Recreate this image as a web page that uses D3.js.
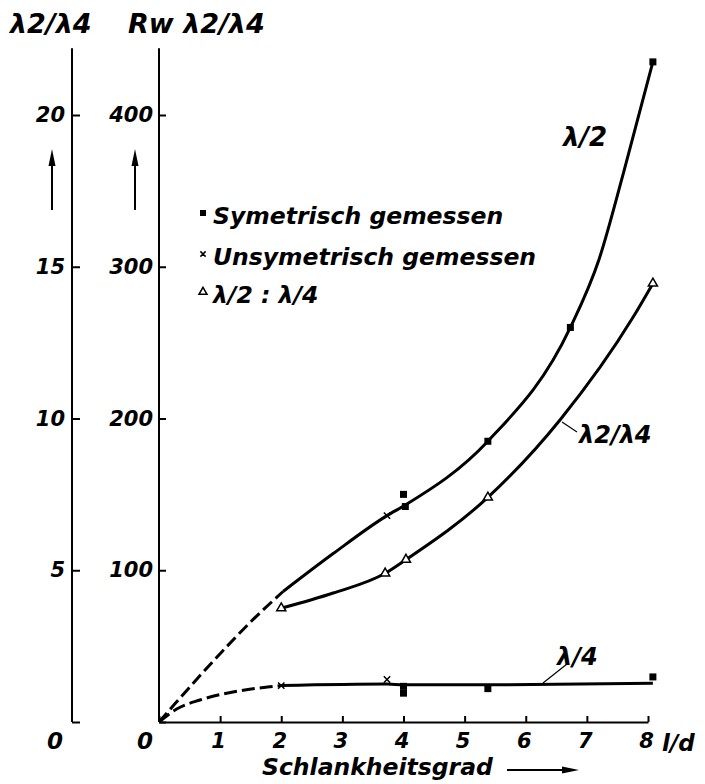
<!DOCTYPE html>
<html>
  <head>
    <meta charset="utf-8">
    <script src="https://d3js.org/d3.v7.min.js"></script>
    <style>
      body { margin: 0; background: white; }
      text { font-family: "DejaVu Sans", sans-serif; font-weight: bold; font-style: italic; fill: black; }
      .axis path, .axis line { stroke: black; stroke-width: 2px; }
      .axis text { font-size: 21px; }
      .curve { fill: none; stroke: black; stroke-width: 3px; }
    </style>
  </head>
  <body>
    <div id="chart"></div>
<script>

// ---------- DATA -----------
var xTicks = [0, 1, 2, 3, 4, 5, 6, 7, 8];
var leftTicks = [0, 5, 10, 15, 20];
var rightTicks = [0, 100, 200, 300, 400];

// lambda/2 curve (Rw scale), dashed start then solid
var halfDashed = [[0, 0], [0.26, 12], [1, 45], [1.5, 66], [2.03, 86]];
var halfSolid = [[2.03, 86], [2.85, 111], [3.73, 136], [4.03, 143], [5.38, 185], [6.73, 260], [7.2, 305], [7.6, 362], [8.08, 435]];

// lambda2/lambda4 ratio curve
var ratioSolid = [[2, 75], [2.85, 85], [3.7, 98], [4.04, 107], [5.38, 148], [6.56, 199], [7.76, 267], [8.08, 289]];

// lambda/4 curve
var quarterDashed = [[0, 0], [0.29, 8.6], [0.67, 14.5], [1.21, 19.8], [1.77, 23], [2, 24]];
var quarterSolid = [[2, 24], [3.73, 25], [4, 24.5], [5.38, 24.5], [8.08, 25.5]];

// measured points
var symPoints = [[4.0, 150], [4.03, 142], [5.38, 185], [6.73, 260], [8.08, 435], [4.0, 23.5], [4.0, 19], [5.38, 22], [8.08, 29.7]];
var unsymPoints = [[3.73, 136], [2.0, 24], [3.73, 28]];
var triPoints = [[2, 75], [3.7, 98], [4.04, 107], [5.38, 148], [8.08, 289]];

var legendItems = ["Symetrisch gemessen", "Unsymetrisch gemessen", "\u03bb/2 : \u03bb/4"];

// ---------- SETUP -----------
var width = 705, height = 784;
var svg = d3.select("#chart").append("svg")
  .attr("width", width)
  .attr("height", height);

var x = d3.scaleLinear().domain([0, 8]).range([159, 648]);
var yR = d3.scaleLinear().domain([0, 400]).range([722, 115]);
var yL = d3.scaleLinear().domain([0, 20]).range([722, 115]);
var outerX = 72;

var line = d3.line()
  .x(function(d) { return x(d[0]); })
  .y(function(d) { return yR(d[1]); })
  .curve(d3.curveMonotoneX);

// ---------- AXES -----------
var leftAxis = svg.append("g").attr("class", "axis")
  .attr("transform", "translate(" + outerX + ",0)")
  .call(d3.axisLeft(yL).tickValues(leftTicks).tickSize(-8).tickSizeOuter(0).tickPadding(7)
    .tickFormat(function(d) { return d === 0 ? "" : d; }));
leftAxis.select(".domain").remove();
leftAxis.append("line").attr("x1", 0).attr("x2", 0).attr("y1", yL(0)).attr("y2", yL(22.2));

var rightAxis = svg.append("g").attr("class", "axis")
  .attr("transform", "translate(" + x(0) + ",0)")
  .call(d3.axisLeft(yR).tickValues(rightTicks).tickSize(-7).tickSizeOuter(0).tickPadding(6)
    .tickFormat(function(d) { return d === 0 ? "" : d; }));
rightAxis.select(".domain").remove();
rightAxis.append("line").attr("x1", 0).attr("x2", 0).attr("y1", yR(0)).attr("y2", yR(444));

var xAxis = svg.append("g").attr("class", "axis")
  .attr("transform", "translate(0," + yR(0) + ")")
  .call(d3.axisBottom(x).tickValues(xTicks).tickSize(-6).tickSizeOuter(0).tickPadding(11)
    .tickFormat(function(d) { return d === 0 ? "" : d; }));
xAxis.selectAll("text").attr("font-size", 23).attr("dx", -2);

// zero labels at the bottom
svg.append("text").attr("x", outerX - 17).attr("y", 749).attr("text-anchor", "middle").attr("font-size", 23).text("0");
svg.append("text").attr("x", x(0) - 14).attr("y", 749).attr("text-anchor", "middle").attr("font-size", 23).text("0");

// axis titles
svg.append("text").attr("x", 10).attr("y", 33).attr("font-size", 27).text("\u03bb2/\u03bb4");
svg.append("text").attr("x", 128).attr("y", 33).attr("font-size", 27).text("Rw \u03bb2/\u03bb4");
svg.append("text").attr("x", 262).attr("y", 775).attr("font-size", 23.5).text("Schlankheitsgrad");
svg.append("text").attr("x", 662).attr("y", 751).attr("font-size", 23).text("l/d");

// arrows
function arrowUp(ax) {
  svg.append("line").attr("x1", ax).attr("x2", ax).attr("y1", 210).attr("y2", 160)
    .attr("stroke", "black").attr("stroke-width", 2);
  svg.append("path").attr("d", "M" + (ax - 3.5) + ",166 L" + ax + ",149 L" + (ax + 3.5) + ",166 Z");
}
arrowUp(52);
arrowUp(135);
svg.append("line").attr("x1", 507).attr("x2", 566).attr("y1", 770).attr("y2", 770)
  .attr("stroke", "black").attr("stroke-width", 2);
svg.append("path").attr("d", "M562,766.5 L579,770 L562,773.5 Z");

// ---------- CURVES -----------
svg.append("path").datum(halfDashed).attr("class", "curve").attr("stroke-dasharray", "12,5").attr("d", line);
svg.append("path").datum(halfSolid).attr("class", "curve").attr("d", line);
svg.append("path").datum(ratioSolid).attr("class", "curve").attr("d", line);
svg.append("path").datum(quarterDashed).attr("class", "curve").attr("stroke-dasharray", "13,5").attr("d", line);
svg.append("path").datum(quarterSolid).attr("class", "curve").attr("stroke-width", 3.5).attr("d", line);

// ---------- MARKERS -----------
svg.selectAll(".sym").data(symPoints).enter().append("rect")
  .attr("class", "sym")
  .attr("x", function(d) { return x(d[0]) - 3.5; })
  .attr("y", function(d) { return yR(d[1]) - 3.5; })
  .attr("width", 7).attr("height", 7);

var cross = d3.symbol().type(d3.symbolX).size(28);
svg.selectAll(".unsym").data(unsymPoints).enter().append("path")
  .attr("class", "unsym")
  .attr("transform", function(d) { return "translate(" + x(d[0]) + "," + yR(d[1]) + ")"; })
  .attr("d", cross)
  .attr("fill", "none").attr("stroke", "black").attr("stroke-width", 1.5);

var tri = d3.symbol().type(d3.symbolTriangle).size(36);
svg.selectAll(".tri").data(triPoints).enter().append("path")
  .attr("class", "tri")
  .attr("transform", function(d) { return "translate(" + x(d[0]) + "," + yR(d[1]) + ")"; })
  .attr("d", tri)
  .attr("fill", "white").attr("stroke", "black").attr("stroke-width", 1.5);

// ---------- CURVE LABELS -----------
svg.append("text").attr("x", 563).attr("y", 146).attr("font-size", 26).text("\u03bb/2");
svg.append("text").attr("x", 579).attr("y", 443).attr("font-size", 24).text("\u03bb2/\u03bb4");
svg.append("line").attr("x1", 562).attr("y1", 422).attr("x2", 577).attr("y2", 432).attr("stroke", "black").attr("stroke-width", 1.2);
svg.append("text").attr("x", 557).attr("y", 665).attr("font-size", 24).text("\u03bb/4");
svg.append("line").attr("x1", 543).attr("y1", 683).attr("x2", 567).attr("y2", 664).attr("stroke", "black").attr("stroke-width", 1.2);

// ---------- LEGEND -----------
var legendY = [213, 254, 292];
var legend = svg.selectAll(".legend").data(legendItems).enter().append("g")
  .attr("class", "legend")
  .attr("transform", function(d, i) { return "translate(203," + legendY[i] + ")"; });
legend.append("text").attr("x", 10).attr("y", 11).attr("font-size", 23.5).text(function(d) { return d; });
legend.filter(function(d, i) { return i === 0; }).append("rect")
  .attr("x", -3).attr("y", -3).attr("width", 6).attr("height", 6);
legend.filter(function(d, i) { return i === 1; }).append("path")
  .attr("d", d3.symbol().type(d3.symbolX).size(20))
  .attr("fill", "none").attr("stroke", "black").attr("stroke-width", 1.5);
legend.filter(function(d, i) { return i === 2; }).append("path")
  .attr("d", d3.symbol().type(d3.symbolTriangle).size(28))
  .attr("fill", "white").attr("stroke", "black").attr("stroke-width", 1.5);

</script>
  </body>
</html>
